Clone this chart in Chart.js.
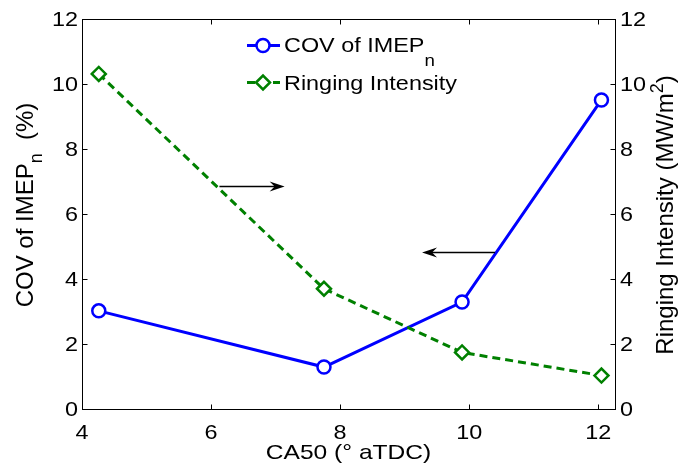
<!DOCTYPE html>
<html>
<head>
<meta charset="utf-8">
<script src="https://cdn.jsdelivr.net/npm/chart.js@4"></script>
<style>
html, body { margin: 0; padding: 0; background: #fff; }
#wrap { width: 681px; height: 466px; }
</style>
</head>
<body>
<div id="wrap"><canvas id="grafico" width="681" height="466"></canvas></div>
<script>
// valores
const ca50 = [4.26, 7.75, 9.89, 12.05];
const covImep = [3.02, 1.29, 3.29, 9.51];
const ringing = [10.31, 3.70, 1.74, 1.03];
const xTicks = [4, 6, 8, 10, 12];
const yTicks = [0, 2, 4, 6, 8, 10, 12];
// setas (unidades dos dados): [x inicio, x fim, y]
const setaDireita = [6.13, 7.14, 6.87];
const setaEsquerda = [10.40, 9.27, 4.84];

const FONTE = '"Liberation Sans", Arial, sans-serif';
const AZUL = '#0000ff';
const VERDE = '#008000';
const ESTICA = 1.17; // a figura original esta esticada na horizontal

// texto com sub/sobrescrito: partes = [{t, size, dy}]
function textoRico(ctx, partes, x, y, align, sx) {
    sx = sx || 1;
    let total = 0;
    partes.forEach(p => {
        ctx.font = p.size + 'px ' + FONTE;
        total += ctx.measureText(p.t).width * sx;
    });
    let cx = x;
    if (align === 'center') cx = x - total / 2;
    if (align === 'right') cx = x - total;
    ctx.textAlign = 'left';
    partes.forEach(p => {
        ctx.font = p.size + 'px ' + FONTE;
        ctx.save();
        ctx.translate(cx, y + (p.dy || 0));
        ctx.scale(sx, 1);
        ctx.fillText(p.t, 0, 0);
        ctx.restore();
        cx += ctx.measureText(p.t).width * sx;
    });
}

function seta(ctx, x0, x1, y) {
    const dir = Math.sign(x1 - x0);
    ctx.beginPath();
    ctx.moveTo(x0, y);
    ctx.lineTo(x1 - dir * 8, y);
    ctx.stroke();
    ctx.beginPath();
    ctx.moveTo(x1, y);
    ctx.lineTo(x1 - dir * 15, y - 5);
    ctx.lineTo(x1 - dir * 10, y);
    ctx.lineTo(x1 - dir * 15, y + 5);
    ctx.closePath();
    ctx.fill();
}

const extras = {
    id: 'extras',
    afterDatasetsDraw(chart) {
        const ctx = chart.ctx;
        const x = chart.scales.x, y = chart.scales.y;
        ctx.save();
        ctx.strokeStyle = '#000';
        ctx.fillStyle = '#000';
        ctx.lineWidth = 1.5;
        [setaDireita, setaEsquerda].forEach(s => {
            seta(ctx, x.getPixelForValue(s[0]), x.getPixelForValue(s[1]), Math.round(y.getPixelForValue(s[2])) + 0.5);
        });
        ctx.restore();
    },
    afterDraw(chart) {
        const ctx = chart.ctx;
        const a = chart.chartArea;
        const x = chart.scales.x, y = chart.scales.y;
        const L = Math.round(a.left) + 0.5, R = Math.round(a.right) + 0.5;
        const T = Math.round(a.top) + 0.5, B = Math.round(a.bottom) + 0.5;
        ctx.save();
        ctx.strokeStyle = '#000';
        ctx.lineWidth = 1;
        ctx.strokeRect(L, T, R - L, B - T);
        ctx.beginPath();
        xTicks.forEach(v => {
            const px = Math.round(x.getPixelForValue(v)) + 0.5;
            ctx.moveTo(px, B); ctx.lineTo(px, B - 5);
            ctx.moveTo(px, T); ctx.lineTo(px, T + 5);
        });
        yTicks.forEach(v => {
            const py = Math.round(y.getPixelForValue(v)) + 0.5;
            ctx.moveTo(L, py); ctx.lineTo(L + 5, py);
            ctx.moveTo(R, py); ctx.lineTo(R - 5, py);
        });
        ctx.stroke();

        // rotulos dos ticks
        ctx.fillStyle = '#000';
        ctx.textBaseline = 'alphabetic';
        xTicks.forEach(v => {
            textoRico(ctx, [{t: String(v), size: 20}], x.getPixelForValue(v), 439, 'center', ESTICA);
        });
        yTicks.forEach(v => {
            const py = y.getPixelForValue(v) + 7;
            textoRico(ctx, [{t: String(v), size: 20}], a.left - 4, py, 'right', ESTICA);
            textoRico(ctx, [{t: String(v), size: 20}], a.right + 5, py, 'left', ESTICA);
        });

        // titulos dos eixos
        textoRico(ctx, [{t: 'CA50 (° aTDC)', size: 21}], (a.left + a.right) / 2, 459, 'center', ESTICA);

        ctx.save();
        ctx.translate(33, 205);
        ctx.rotate(-Math.PI / 2);
        textoRico(ctx, [
            {t: 'COV of IMEP', size: 24},
            {t: 'n', size: 18, dy: 9},
            {t: '  (%)', size: 24}
        ], 0, 0, 'center');
        ctx.restore();

        ctx.save();
        ctx.translate(673, 215);
        ctx.rotate(-Math.PI / 2);
        textoRico(ctx, [
            {t: 'Ringing Intensity (MW/m', size: 24},
            {t: '2', size: 18, dy: -10},
            {t: ')', size: 24}
        ], 0, 0, 'center');
        ctx.restore();

        // legenda
        ctx.lineWidth = 3;
        ctx.strokeStyle = AZUL;
        ctx.beginPath(); ctx.moveTo(247, 45.5); ctx.lineTo(280, 45.5); ctx.stroke();
        ctx.lineWidth = 2.5;
        ctx.fillStyle = '#fff';
        ctx.beginPath(); ctx.arc(263, 45.5, 6.5, 0, Math.PI * 2); ctx.fill(); ctx.stroke();

        ctx.lineWidth = 3;
        ctx.strokeStyle = VERDE;
        ctx.setLineDash([8, 5]);
        ctx.beginPath(); ctx.moveTo(247, 82.5); ctx.lineTo(280, 82.5); ctx.stroke();
        ctx.setLineDash([]);
        ctx.lineWidth = 2.5;
        ctx.beginPath();
        ctx.moveTo(256, 82.5); ctx.lineTo(263, 75.5); ctx.lineTo(270, 82.5); ctx.lineTo(263, 89.5);
        ctx.closePath(); ctx.fill(); ctx.stroke();

        ctx.fillStyle = '#000';
        textoRico(ctx, [
            {t: 'COV of IMEP', size: 20},
            {t: 'n', size: 16, dy: 14}
        ], 284, 52, 'left', ESTICA);
        textoRico(ctx, [{t: 'Ringing Intensity', size: 20}], 284, 90, 'left', ESTICA);
        ctx.restore();
    }
};

const ctx = document.getElementById('grafico').getContext('2d');
const chart = new Chart(ctx, {
    type: 'line',
    data: {
        datasets: [{
            label: 'COV of IMEPn',
            data: ca50.map((v, i) => ({x: v, y: covImep[i]})),
            yAxisID: 'y',
            borderColor: AZUL,
            borderWidth: 3,
            pointStyle: 'circle',
            pointRadius: 6.5,
            pointBorderWidth: 2.5,
            pointBackgroundColor: '#fff',
            pointBorderColor: AZUL,
            tension: 0,
            order: 1
        }, {
            label: 'Ringing Intensity',
            data: ca50.map((v, i) => ({x: v, y: ringing[i]})),
            yAxisID: 'y2',
            borderColor: VERDE,
            borderWidth: 3,
            borderDash: [8, 5],
            pointStyle: 'rectRot',
            pointRadius: 7,
            pointBorderWidth: 2.5,
            pointBackgroundColor: '#fff',
            pointBorderColor: VERDE,
            tension: 0,
            order: 0
        }]
    },
    options: {
        responsive: false,
        animation: false,
        layout: { padding: { top: 19, left: 0, right: 0, bottom: 0 } },
        plugins: {
            legend: { display: false },
            tooltip: { enabled: false }
        },
        scales: {
            x: {
                type: 'linear',
                min: 4,
                max: 12.26,
                afterBuildTicks: s => { s.ticks = xTicks.map(v => ({value: v})); },
                afterFit: s => { s.height = 57; },
                grid: { display: false, drawTicks: false },
                border: { display: false },
                ticks: { display: false }
            },
            y: {
                position: 'left',
                min: 0,
                max: 12,
                afterBuildTicks: s => { s.ticks = yTicks.map(v => ({value: v})); },
                afterFit: s => { s.width = 82; },
                grid: { display: false, drawTicks: false },
                border: { display: false },
                ticks: { display: false }
            },
            y2: {
                position: 'right',
                min: 0,
                max: 12,
                afterBuildTicks: s => { s.ticks = yTicks.map(v => ({value: v})); },
                afterFit: s => { s.width = 66; },
                grid: { display: false, drawTicks: false },
                border: { display: false },
                ticks: { display: false }
            }
        }
    },
    plugins: [extras]
});
</script>
</body>
</html>
